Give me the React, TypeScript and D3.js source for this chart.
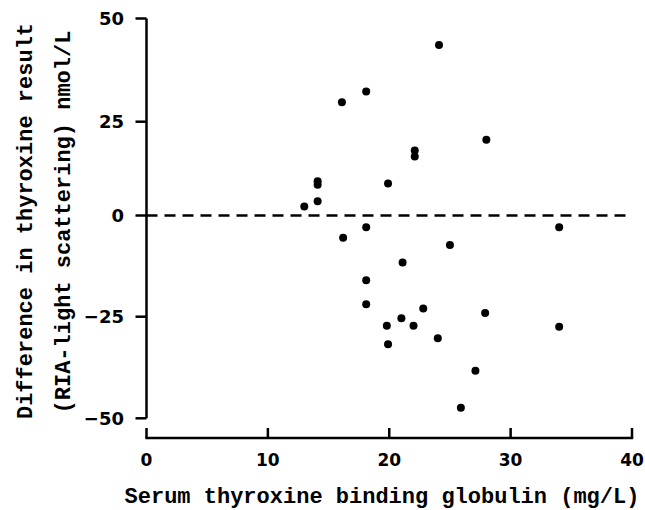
import React from "react";
import * as d3 from "d3";

const tbg = [13.0, 14.1, 14.1, 14.1, 16.1, 16.2, 18.1, 18.1, 18.1, 18.1, 19.9, 19.8, 19.9, 21.1, 21.0, 22.1, 22.1, 22.0, 22.8, 24.1, 24.0, 25.0, 25.9, 27.1, 28.0, 27.9, 34.0, 34.0];
const diff = [2.4, 3.8, 8.2, 9.1, 29.7, -5.5, 32.3, -2.9, -16.0, -21.9, 8.5, -27.2, -31.8, -11.6, -25.4, 17.3, 15.7, -27.2, -23.0, 43.6, -30.3, -7.3, -47.4, -38.3, 20.2, -24.1, -2.9, -27.5];
const xTicks = [0, 10, 20, 30, 40];
const yTicks = [-50, -25, 0, 25, 50];
const xTitle = "Serum thyroxine binding globulin (mg/L)";
const yTitle1 = "Difference in thyroxine result";
const yTitle2 = "(RIA-light scattering) nmol/L";

export default function App() {
  const x = d3.scaleLinear().domain([0, 40]).range([146.5, 632]);
  const y = d3.scaleLinear().domain([-50, -25, 0, 25, 50]).range([418.3, 316.7, 215.5, 121.7, 18.5]);
  const axisY = 438;
  const tickFont = "'DejaVu Sans', sans-serif";
  const titleFont = "'Liberation Mono', monospace";
  const fmt = (v: number) => (v < 0 ? "\u2212" + Math.abs(v) : String(v));
  return (
    <div style={{ position: "fixed", left: 0, top: 0 }}>
      <svg width={645} height={510} style={{ display: "block", background: "#fff" }}>
        {/* y axis */}
        <line x1={x(0)} x2={x(0)} y1={y(50)} y2={y(-50)} stroke="#000" strokeWidth={2.5} />
        {yTicks.map((t) => (
          <g key={"yt" + t}>
            <line x1={x(0) - 11} x2={x(0)} y1={y(t)} y2={y(t)} stroke="#000" strokeWidth={2.5} />
            <text x={124} y={y(t)} textAnchor="end" dominantBaseline="central" fontFamily={tickFont} fontWeight="bold" fontSize={18} fill="#000">
              {fmt(t)}
            </text>
          </g>
        ))}
        {/* x axis */}
        <line x1={x(0) - 1.2} x2={x(40) + 1.2} y1={axisY} y2={axisY} stroke="#000" strokeWidth={2.5} />
        {xTicks.map((t) => (
          <g key={"xt" + t}>
            <line x1={x(t)} x2={x(t)} y1={axisY} y2={axisY - 10} stroke="#000" strokeWidth={2.5} />
            <text x={x(t)} y={460} textAnchor="middle" dominantBaseline="central" fontFamily={tickFont} fontWeight="bold" fontSize={17} fill="#000">
              {t}
            </text>
          </g>
        ))}
        {/* zero reference line */}
        <line x1={x(0)} x2={x(40)} y1={y(0)} y2={y(0)} stroke="#000" strokeWidth={2.5} strokeDasharray="11 7" />
        {/* points */}
        {tbg.map((v, i) => (
          <circle key={"p" + i} cx={x(v)} cy={y(diff[i])} r={4} fill="#000" />
        ))}
        {/* titles */}
        <text x={382} y={503} textAnchor="middle" fontFamily={titleFont} fontWeight="bold" fontSize={22} fill="#000">
          {xTitle}
        </text>
        <text transform="translate(32,221) rotate(-90)" textAnchor="middle" fontFamily={titleFont} fontWeight="bold" fontSize={22} fill="#000">
          {yTitle1}
        </text>
        <text transform="translate(70,222) rotate(-90)" textAnchor="middle" fontFamily={titleFont} fontWeight="bold" fontSize={22} fill="#000">
          {yTitle2}
        </text>
      </svg>
    </div>
  );
}
